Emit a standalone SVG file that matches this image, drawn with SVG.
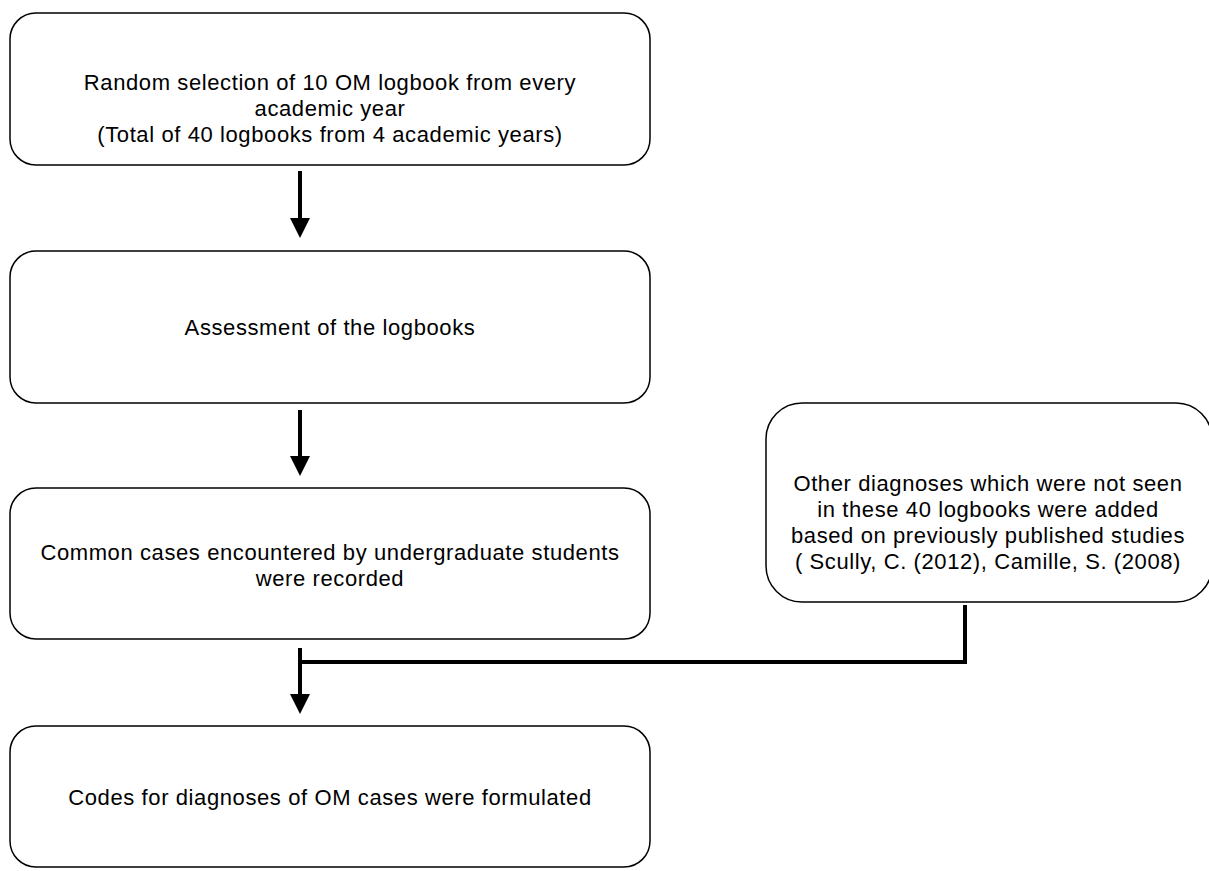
<svg xmlns="http://www.w3.org/2000/svg" width="1209" height="871" viewBox="0 0 1209 871">
<style>
.box{fill:#fff;stroke:#000;stroke-width:1.5}
.t{font-family:"Liberation Sans",Arial,sans-serif;font-size:22px;letter-spacing:0.6px;fill:#000;text-anchor:middle}
.c{stroke:#000;stroke-width:4;fill:none}
</style>
<defs>
<marker id="ah" markerWidth="5" markerHeight="5" refX="2.5" refY="2.5" orient="auto" markerUnits="strokeWidth" viewBox="0 0 5 5">
<path d="M0,0 L5,2.5 L0,5 z" fill="#000"/>
</marker>
</defs>
<rect width="1209" height="871" fill="#fff"/>
<g id="n1">
<rect class="box" x="10" y="13" width="640" height="152" rx="26"/>
<text class="t" x="330" y="90">Random selection of 10 OM logbook from every</text>
<text class="t" x="330" y="116">academic year</text>
<text class="t" x="330" y="142">(Total of 40 logbooks from 4 academic years)</text>
</g>
<g id="n2">
<rect class="box" x="10" y="251" width="640" height="152" rx="26"/>
<text class="t" x="330" y="335">Assessment of the logbooks</text>
</g>
<g id="n3">
<rect class="box" x="10" y="488" width="640" height="151" rx="26"/>
<text class="t" x="330" y="560">Common cases encountered by undergraduate students</text>
<text class="t" x="330" y="586">were recorded</text>
</g>
<g id="n4">
<rect class="box" x="10" y="726" width="640" height="141" rx="26"/>
<text class="t" x="330" y="805">Codes for diagnoses of OM cases were formulated</text>
</g>
<g id="n5">
<rect class="box" x="766" y="403" width="446" height="199" rx="36"/>
<text class="t" x="988" y="491">Other diagnoses which were not seen</text>
<text class="t" x="988" y="517">in these 40 logbooks were added</text>
<text class="t" x="988" y="543">based on previously published studies</text>
<text class="t" x="988" y="569">( Scully, C. (2012), Camille, S. (2008)</text>
</g>
<g id="connectors">
<line class="c" x1="300" y1="171" x2="300" y2="228" marker-end="url(#ah)"/>
<line class="c" x1="300" y1="410" x2="300" y2="466" marker-end="url(#ah)"/>
<line class="c" x1="300" y1="648" x2="300" y2="704" marker-end="url(#ah)"/>
<polyline class="c" points="965,605 965,662 302,662"/>
</g>
</svg>
